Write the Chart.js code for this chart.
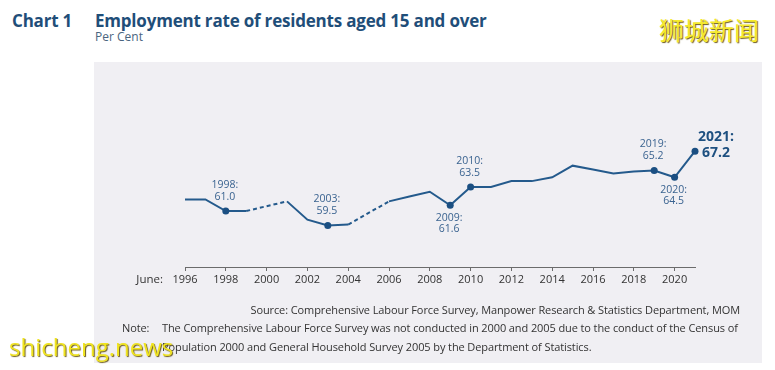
<!DOCTYPE html>
<html lang="en">
<head>
    <meta charset="UTF-8">
    <title>Employment rate of residents aged 15 and over</title>
    <script src="https://cdn.jsdelivr.net/npm/chart.js"></script>
    <style>
        body {
            margin: 0;
            background: #fff;
            font-family: 'Open Sans', sans-serif;
        }
        #wrap {
            position: relative;
            width: 775px;
            height: 370px;
            overflow: hidden;
            background: #fff;
        }
        .panel {
            position: absolute;
            left: 94px;
            top: 62px;
            width: 668px;
            height: 301px;
            background: #f0eff3;
        }
        .chart-no, .chart-title {
            position: absolute;
            top: 9px;
            font-size: 17px;
            font-weight: 700;
            line-height: 24px;
            letter-spacing: -0.2px;
            color: #1f4e79;
            white-space: nowrap;
        }
        .chart-no { left: 12px; }
        .chart-title { left: 95px; }
        .unit {
            position: absolute;
            left: 95px;
            top: 29px;
            font-size: 12px;
            line-height: 16px;
            color: #4a6580;
        }
        .canvas-box {
            position: absolute;
            left: 0;
            top: 0;
            width: 775px;
            height: 370px;
        }
        .note {
            position: absolute;
            font-size: 11px;
            line-height: 18px;
            color: #333;
            white-space: nowrap;
            letter-spacing: -0.1px;
        }
        .wm-cn {
            position: absolute;
            left: 659px;
            top: 14px;
            font-family: 'Noto Sans CJK SC', sans-serif;
            font-size: 25px;
            line-height: 30px;
            color: #f6ea2c;
            text-shadow: 1px 1px 1px #6b5a1c;
        }
        .wm-en {
            position: absolute;
            left: 9px;
            top: 332px;
            font-size: 24px;
            line-height: 30px;
            color: #f0e420;
            text-shadow: 1px 1px 1px #6b5a1c;
        }
    </style>
</head>
<body>
<div id="wrap">
    <div class="panel"></div>
    <div class="chart-no">Chart 1</div>
    <div class="chart-title">Employment rate of residents aged 15 and over</div>
    <div class="unit">Per Cent</div>
    <div class="wm-cn">狮城新闻</div>

    <div class="canvas-box"><canvas id="rateChart"></canvas></div>

    <div class="note" style="right:35px; top:301px;">Source: Comprehensive Labour Force Survey, Manpower Research &amp; Statistics Department, MOM</div>
    <div class="note" style="left:122px; top:319px;">Note:</div>
    <div class="note" style="left:162px; top:319px;">The Comprehensive Labour Force Survey was not conducted in 2000 and 2005 due to the conduct of the Census of</div>
    <div class="note" style="left:162px; top:338px;">Population 2000 and General Household Survey 2005 by the Department of Statistics.</div>

    <div class="wm-en">shicheng.news</div>
</div>

<script>
    // survey years (no survey in 2000 and 2005)
    var years = [1996, 1997, 1998, 1999, 2001, 2002, 2003, 2004, 2006, 2007, 2008, 2009,
                 2010, 2011, 2012, 2013, 2014, 2015, 2016, 2017, 2018, 2019, 2020, 2021];
    var rates = [62.2, 62.2, 61.0, 61.0, 62.0, 60.1, 59.5, 59.6, 62.0, 62.5, 63.0, 61.6,
                 63.5, 63.5, 64.1, 64.1, 64.5, 65.7, 65.3, 64.9, 65.1, 65.2, 64.5, 67.2];
    var tickYears = [1996, 1998, 2000, 2002, 2004, 2006, 2008, 2010, 2012, 2014, 2016, 2018, 2020];
    var markedYears = [1998, 2003, 2009, 2010, 2019, 2020, 2021];

    var lineColor = '#245a8c';
    var labelPlace = { 1998: 'above', 2003: 'above', 2009: 'below', 2010: 'above',
                       2019: 'above', 2020: 'below', 2021: 'right' };

    var pointLabels = {
        id: 'pointLabels',
        afterDatasetsDraw: function(chart) {
            var ctx = chart.ctx;
            var meta = chart.getDatasetMeta(0);
            ctx.save();
            ctx.textAlign = 'center';
            ctx.textBaseline = 'middle';
            meta.data.forEach(function(pt, i) {
                var yr = years[i];
                if (markedYears.indexOf(yr) < 0) return;
                var l1 = yr + ':';
                var l2 = rates[i].toFixed(1);
                var place = labelPlace[yr];
                if (place === 'right') {
                    ctx.font = 'bold 14px "Open Sans"';
                    ctx.fillStyle = '#1e5080';
                    ctx.fillText(l1, pt.x + 21, pt.y - 14);
                    ctx.fillText(l2, pt.x + 21, pt.y + 2);
                } else {
                    ctx.font = '10.5px "Open Sans"';
                    ctx.fillStyle = '#3a6390';
                    var d = place === 'above' ? [-26, -14] : [13, 24];
                    ctx.fillText(l1, pt.x - 1, pt.y + d[0]);
                    ctx.fillText(l2, pt.x - 1, pt.y + d[1]);
                }
            });
            ctx.restore();
        },
        afterDraw: function(chart) {
            var ctx = chart.ctx;
            var x = chart.scales.x;
            ctx.save();
            ctx.font = '11.5px "Open Sans"';
            ctx.fillStyle = '#333';
            ctx.textAlign = 'right';
            ctx.textBaseline = 'middle';
            ctx.fillText('June:', x.left - 22, x.top + 13);
            ctx.restore();
        }
    };

    var ctx = document.getElementById('rateChart').getContext('2d');
    new Chart(ctx, {
        type: 'line',
        data: {
            datasets: [{
                data: years.map(function(y, i) { return { x: y, y: rates[i] }; }),
                borderColor: lineColor,
                borderWidth: 2,
                tension: 0,
                fill: false,
                clip: false,
                pointRadius: function(c) {
                    return markedYears.indexOf(years[c.dataIndex]) >= 0 ? 3.5 : 0;
                },
                pointHoverRadius: 0,
                pointBackgroundColor: '#1b4f82',
                pointBorderWidth: 0,
                segment: {
                    borderDash: function(c) {
                        return c.p1.parsed.x - c.p0.parsed.x > 1 ? [4, 3] : undefined;
                    }
                }
            }]
        },
        options: {
            responsive: true,
            maintainAspectRatio: false,
            animation: false,
            layout: { padding: { left: 185, right: 80, top: 74, bottom: 81 } },
            plugins: {
                legend: { display: false },
                tooltip: { enabled: false }
            },
            scales: {
                x: {
                    type: 'linear',
                    min: 1996,
                    max: 2021,
                    afterBuildTicks: function(s) {
                        s.ticks = tickYears.map(function(v) { return { value: v }; });
                    },
                    afterFit: function(s) { s.height = 22; },
                    border: { display: true, color: '#6b6b6b', width: 1 },
                    grid: { drawOnChartArea: false, drawTicks: true, tickLength: 4, color: '#6b6b6b' },
                    ticks: {
                        font: { family: 'Open Sans', size: 11 },
                        color: '#333',
                        padding: 2,
                        maxRotation: 0,
                        autoSkip: false,
                        callback: function(v) { return String(v); }
                    }
                },
                y: {
                    display: false,
                    min: 55.2,
                    max: 75.2
                }
            }
        },
        plugins: [pointLabels]
    });
</script>
</body>
</html>
